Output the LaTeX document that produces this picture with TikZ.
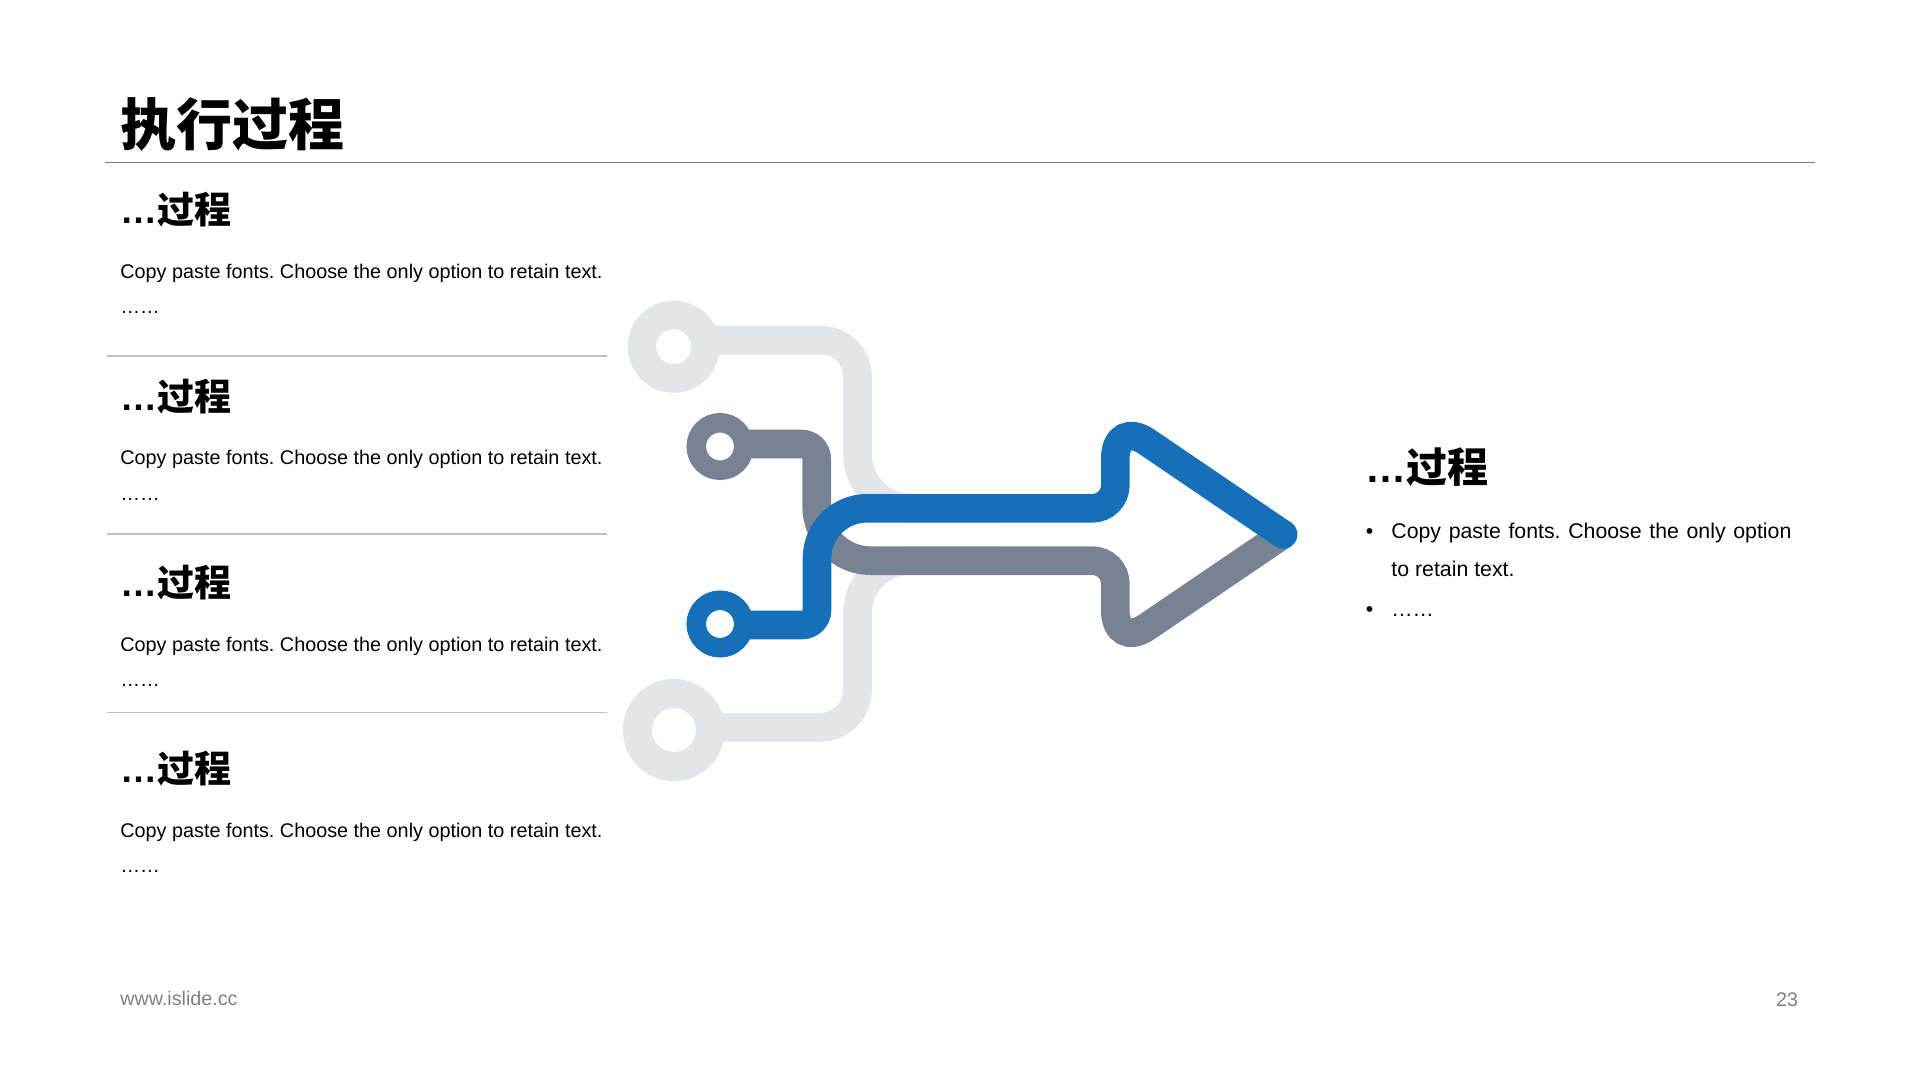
\documentclass[tikz,border=0pt]{standalone}
\usepackage{fontspec}
\setmainfont{Liberation Sans}
\newfontfamily\cjk{Noto Sans CJK SC}
\usetikzlibrary{positioning,backgrounds}
\frenchspacing
\definecolor{flowblue}{HTML}{1570B9}
\definecolor{flowgray}{HTML}{778393}
\definecolor{flowlight}{HTML}{E4E5E9}
\definecolor{rulegray}{HTML}{808080}
\definecolor{sepgray}{HTML}{BFBFBF}
\definecolor{footgray}{HTML}{7F7F7F}

\begin{document}
\begin{tikzpicture}[
  x=0.5pt, y=-0.5pt,
  ring/.style={circle, draw, fill=white, inner sep=0pt, outer sep=0pt},
  flow/.style={line width=14.3pt, line cap=round},
  pagetitle/.style={anchor=base west, inner sep=0pt, font=\cjk\bfseries\fontsize{28}{34}\selectfont},
  head/.style={anchor=base west, inner sep=0pt, font=\bfseries\fontsize{18.5}{22}\selectfont},
  rhead/.style={anchor=base west, inner sep=0pt, font=\bfseries\fontsize{20.5}{24}\selectfont},
  body/.style={anchor=base west, inner sep=0pt, font=\fontsize{9.9}{12}\selectfont},
  rbody/.style={anchor=base west, inner sep=0pt, font=\fontsize{10.65}{13}\selectfont},
  foot/.style={inner sep=0pt, text=footgray, font=\fontsize{9.85}{12}\selectfont},
  sepline/.style={draw=sepgray, line width=0.55pt}
]
  \useasboundingbox (0,0) rectangle (1920,1080);

  \node[pagetitle] (title) at (120,146) {执行过程};
  \draw[rulegray, line width=0.7pt] (105,162.3) -- (1815,162.3);

  \node[head] (h1) at (120,224) {…{\cjk 过程}};
  \node[body] (t1) at (120,278.5) {Copy paste fonts. Choose the only option to retain text.};
  \node[body, below=17.75pt of t1.base west, anchor=base west] (d1) {……};
  \draw[sepline] (107.3,356) -- (606.7,356);

  \node[head] (h2) at (120,410.3) {…{\cjk 过程}};
  \node[body] (t2) at (120,464.8) {Copy paste fonts. Choose the only option to retain text.};
  \node[body, below=17.75pt of t2.base west, anchor=base west] (d2) {……};
  \draw[sepline] (107.3,534) -- (606.7,534);

  \node[head] (h3) at (120,596.6) {…{\cjk 过程}};
  \node[body] (t3) at (120,651.1) {Copy paste fonts. Choose the only option to retain text.};
  \node[body, below=17.75pt of t3.base west, anchor=base west] (d3) {……};
  \draw[sepline] (107.3,712.3) -- (606.7,712.3);

  \node[head] (h4) at (120,782.9) {…{\cjk 过程}};
  \node[body] (t4) at (120,837.4) {Copy paste fonts. Choose the only option to retain text.};
  \node[body, below=17.75pt of t4.base west, anchor=base west] (d4) {……};

  \node[ring, draw=flowlight, line width=14.25pt, minimum size=31.75pt] (ringT) at (673.7,346.7) {};
  \node[ring, draw=flowgray, line width=9.75pt, minimum size=23.75pt] (ringG) at (720,446.5) {};
  \node[ring, draw=flowblue, line width=9.75pt, minimum size=23.75pt] (ringB) at (720,624) {};
  \node[ring, draw=flowlight, line width=14.5pt, minimum size=36.5pt] (ringL) at (673.8,730) {};

  \begin{scope}[on background layer]
    \draw[flow, flowlight] ([yshift=3.2pt]ringT.center) [rounded corners=18pt] -- (857.5,340.3) [rounded corners=27pt] -- (857.5,508.3) -- (1000,508.3);
    \draw[flow, flowlight] ([yshift=1.4pt]ringL.center) [rounded corners=18.5pt] -- (857.5,727.2) [rounded corners=26pt] -- (857.5,560.7) -- (1000,560.7);
    \draw[flow, flowgray] ([yshift=1.25pt]ringG.center) [rounded corners=7.5pt] -- (816.7,444) [rounded corners=27pt] -- (816.7,560.7) [rounded corners=11.5pt] -- (1115.3,560.7) [rounded corners=18.9pt] -- (1115.3,648.4) -- (1283,534.4);
    \draw[flow, flowblue] ([yshift=-0.5pt]ringB.center) [rounded corners=7.5pt] -- (817,625) [rounded corners=25pt] -- (817,508.3) [rounded corners=11.5pt] -- (1115.3,508.3) [rounded corners=18.9pt] -- (1115.3,420.4) -- (1283,534.4);
  \end{scope}

  \node[rhead] (rh) at (1365,482) {…{\cjk 过程}};
  \node[rbody] (rb1) at (1365.5,538.3) {•};
  \node[rbody] (rt1) at (1391,538.3) {\makebox[200pt][s]{Copy paste fonts. Choose the only option}};
  \node[rbody, below=18.85pt of rt1.base west, anchor=base west] (rt2) {to retain text.};
  \node[rbody] (rb2) at (1365.5,616.7) {•};
  \node[rbody] (rt3) at (1391,616.7) {……};

  \node[foot, anchor=base west] (site) at (120,1005) {www.islide.cc};
  \node[foot, anchor=base east] (pageno) at (1798.5,1006) {23};
\end{tikzpicture}
\end{document}
